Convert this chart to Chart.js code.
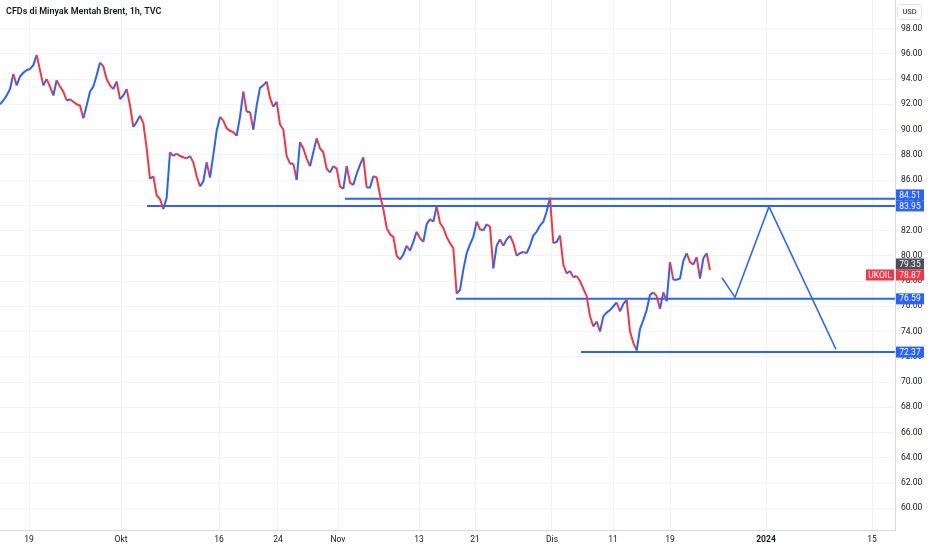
<!DOCTYPE html>
<html>
<head>
<meta charset="utf-8">
<title>CFDs di Minyak Mentah Brent, 1h, TVC</title>
<script src="https://cdn.jsdelivr.net/npm/chart.js@4.4.1/dist/chart.umd.min.js"></script>
<style>
  html, body { margin: 0; padding: 0; background: #ffffff; }
  #wrap { position: relative; width: 932px; height: 550px; }
</style>
</head>
<body>
<div id="wrap"><canvas id="chart" width="932" height="550"></canvas></div>
<script>
// Harga Brent (1h), dibaca dari grafik tiap ~8 jam perdagangan
const startDay = -2.9;   // hari perdagangan, 0 = 19 Sep
const stepDay = 1 / 3;
const closes = [
  92.0, 92.3, 92.7, 93.2, 94.4, 93.5, 94.2, 94.5, 94.7, 94.8,
  95.1, 95.9, 94.7, 93.5, 94.0, 93.4, 92.7, 93.9, 93.4, 93.0,
  92.3, 92.4, 92.2, 92.0, 91.9, 90.9, 91.9, 93.0, 93.4, 94.3,
  95.3, 95.0, 94.0, 93.5, 93.2, 93.8, 92.4, 92.7, 93.2, 91.9,
  90.2, 90.6, 91.1, 90.5, 88.5, 86.1, 86.3, 84.8, 84.5, 83.7,
  84.6, 88.2, 87.9, 88.1, 87.9, 87.8, 87.7, 87.9, 87.4, 86.3,
  85.5, 85.9, 87.4, 86.2, 88.0, 89.9, 91.0, 90.7, 90.1, 89.9,
  89.8, 89.5, 91.0, 93.0, 91.4, 91.4, 90.0, 91.9, 93.3, 93.5,
  93.8, 92.5, 91.8, 92.2, 90.4, 90.0, 87.9, 87.3, 87.3, 86.0,
  89.0, 88.5, 87.7, 87.1, 88.2, 89.3, 88.5, 88.2, 86.9, 86.6,
  87.1, 86.9, 85.5, 85.3, 87.1, 85.8, 85.6, 86.5, 87.2, 87.8,
  85.4, 85.4, 86.3, 86.2, 84.8, 83.7, 82.2, 81.7, 81.5, 80.0,
  79.7, 80.1, 80.8, 80.4, 81.1, 81.9, 81.4, 81.1, 82.5, 82.9,
  82.7, 83.9, 82.6, 82.2, 81.5, 81.0, 80.6, 77.0, 77.3, 78.9,
  80.2, 80.9, 81.5, 82.7, 82.1, 82.0, 82.5, 82.3, 79.0, 80.8,
  81.3, 80.8, 81.3, 81.6, 81.0, 80.0, 80.2, 80.3, 80.2, 80.8,
  81.6, 81.9, 82.4, 82.7, 83.5, 84.6, 81.0, 81.1, 81.6, 79.3,
  78.6, 78.8, 78.3, 78.4, 78.0, 77.4, 76.8, 75.2, 74.4, 74.8,
  74.0, 75.2, 75.5, 75.7, 76.0, 76.3, 75.6, 76.2, 76.5, 74.0,
  73.1, 72.5, 74.2, 74.9, 75.7, 76.9, 77.1, 76.8, 75.8, 77.1,
  76.4, 79.5, 78.1, 78.1, 78.2, 79.6, 80.2, 79.5, 79.3, 79.9,
  78.2, 79.8, 80.2, 78.87
];

// sumbu waktu
const tickDays = [0, 9.2, 19.0, 24.9, 30.9, 39.0, 44.6, 52.3, 58.4, 64.1, 73.7, 84.3];
const tickLabels = ['19', 'Okt', '16', '24', 'Nov', '13', '21', 'Dis', '11', '19', '2024', '15'];
const priceTicks = [60, 62, 64, 66, 68, 70, 72, 74, 76, 78, 80, 82, 84, 86, 88, 90, 92, 94, 96, 98];

// garis support / resistance
const levelPrices = [84.51, 83.95, 76.59, 72.37];
const levelStartDays = [31.6, 11.8, 42.7, 55.2];

// proyeksi zigzag
const projDays = [69.3, 70.6, 74.0, 80.7];
const projPrices = [78.26, 76.71, 83.89, 72.59];

// label harga di sumbu kanan
const tagPrices = [84.51, 83.95, 79.35, 78.87, 76.59, 72.37];
const tagColors = ['#2962ff', '#2962ff', '#4c4f59', '#f23645', '#2962ff', '#2962ff'];
const tagPinned = [false, true, true, false, false, false];
const symbolName = 'UKOIL';

const xMin = -2.9, xMax = 86.6;
const yMin = 58.28, yMax = 100.26;

const BLUE = '#2962ff';
const RED = '#f23645';
const GRID = '#f0f3fa';
const TEXT = '#131722';

const priceData = closes.map((v, i) => ({ x: startDay + i * stepDay, y: v }));

const datasets = [{
  label: 'Brent',
  data: priceData,
  borderWidth: 2,
  pointRadius: 0,
  tension: 0,
  borderColor: BLUE,
  segment: {
    borderColor: ctx => ctx.p1.parsed.y >= ctx.p0.parsed.y ? BLUE : RED
  }
}];

levelPrices.forEach((p, i) => {
  datasets.push({
    label: 'level ' + p,
    data: [{ x: levelStartDays[i], y: p }, { x: xMax, y: p }],
    borderColor: BLUE,
    borderWidth: 2,
    pointRadius: 0
  });
});

datasets.push({
  label: 'proyeksi',
  data: projDays.map((d, i) => ({ x: d, y: projPrices[i] })),
  borderColor: '#2f6bf5',
  borderWidth: 1.6,
  pointRadius: 0,
  tension: 0
});

// judul + kotak USD + label harga
const overlayPlugin = {
  id: 'overlay',
  afterDraw(chart) {
    const ctx = chart.ctx;
    const yScale = chart.scales.y;
    const area = chart.chartArea;
    ctx.save();

    ctx.font = '600 9px Roboto, "Noto Sans", sans-serif';
    ctx.fillStyle = TEXT;
    ctx.textAlign = 'left';
    ctx.textBaseline = 'middle';
    ctx.fillText('CFDs di Minyak Mentah Brent, 1h, TVC', 6, 12);

    // kotak USD
    ctx.fillStyle = '#ffffff';
    ctx.strokeStyle = '#e0e3eb';
    ctx.lineWidth = 1;
    ctx.beginPath();
    ctx.roundRect(897.5, 4.5, 24, 15, 3);
    ctx.fill();
    ctx.stroke();
    ctx.fillStyle = TEXT;
    ctx.font = '7.5px Roboto, "Noto Sans", sans-serif';
    ctx.textAlign = 'center';
    ctx.fillText('USD', 909.5, 12.5);

    // posisi label, geser yang bertumpuk
    const h = 11;
    const tags = tagPrices.map((p, i) => ({
      p, color: tagColors[i], pinned: tagPinned[i], y: yScale.getPixelForValue(p)
    }));
    tags.sort((a, b) => a.y - b.y);
    for (let i = 1; i < tags.length; i++) {
      const a = tags[i - 1], b = tags[i];
      if (b.y - a.y < h) {
        if (a.pinned) b.y = a.y + h;
        else a.y = b.y - h;
      }
    }

    const left = area.right + 1;
    const w = 28;
    ctx.font = '8.5px Roboto, "Noto Sans", sans-serif';
    tags.forEach(t => {
      ctx.fillStyle = t.color;
      ctx.fillRect(left, t.y - h / 2, w, h);
      ctx.fillStyle = '#ffffff';
      ctx.textAlign = 'center';
      ctx.fillText(t.p.toFixed(2), left + w / 2, t.y + 0.5);
      if (t.p === closes[closes.length - 1]) {
        ctx.fillStyle = t.color;
        ctx.fillRect(left - 30, t.y - h / 2, 28, h);
        ctx.fillStyle = '#ffffff';
        ctx.fillText(symbolName, left - 16, t.y + 0.5);
      }
    });
    ctx.restore();
  }
};

new Chart(document.getElementById('chart'), {
  type: 'line',
  data: { datasets },
  plugins: [overlayPlugin],
  options: {
    responsive: false,
    animation: false,
    layout: { padding: 0 },
    plugins: {
      legend: { display: false },
      tooltip: { enabled: false }
    },
    scales: {
      x: {
        type: 'linear',
        min: xMin,
        max: xMax,
        afterBuildTicks: scale => {
          scale.ticks = tickDays.map(v => ({ value: v }));
        },
        afterFit: scale => {
          scale.height = 20;
          scale.paddingLeft = 0;
          scale.paddingRight = 0;
        },
        ticks: {
          autoSkip: false,
          maxRotation: 0,
          padding: 5,
          color: TEXT,
          font: ctx => ({
            family: 'Roboto, "Noto Sans", sans-serif',
            size: 8.5,
            weight: ctx.tick && ctx.tick.value === tickDays[tickLabels.indexOf('2024')] ? '700' : '400'
          }),
          callback: (value, index) => tickLabels[index]
        },
        grid: { color: GRID, drawTicks: false },
        border: { color: '#d6d9e0' }
      },
      y: {
        position: 'right',
        min: yMin,
        max: yMax,
        afterBuildTicks: scale => {
          scale.ticks = priceTicks.map(v => ({ value: v }));
        },
        afterFit: scale => {
          scale.width = 37;
          scale.paddingTop = 0;
          scale.paddingBottom = 0;
        },
        ticks: {
          padding: 6,
          color: TEXT,
          font: { family: 'Roboto, "Noto Sans", sans-serif', size: 8.5 },
          callback: v => Number(v).toFixed(2)
        },
        grid: { color: GRID, drawTicks: false },
        border: { color: '#d6d9e0' }
      }
    }
  }
});
</script>
</body>
</html>
